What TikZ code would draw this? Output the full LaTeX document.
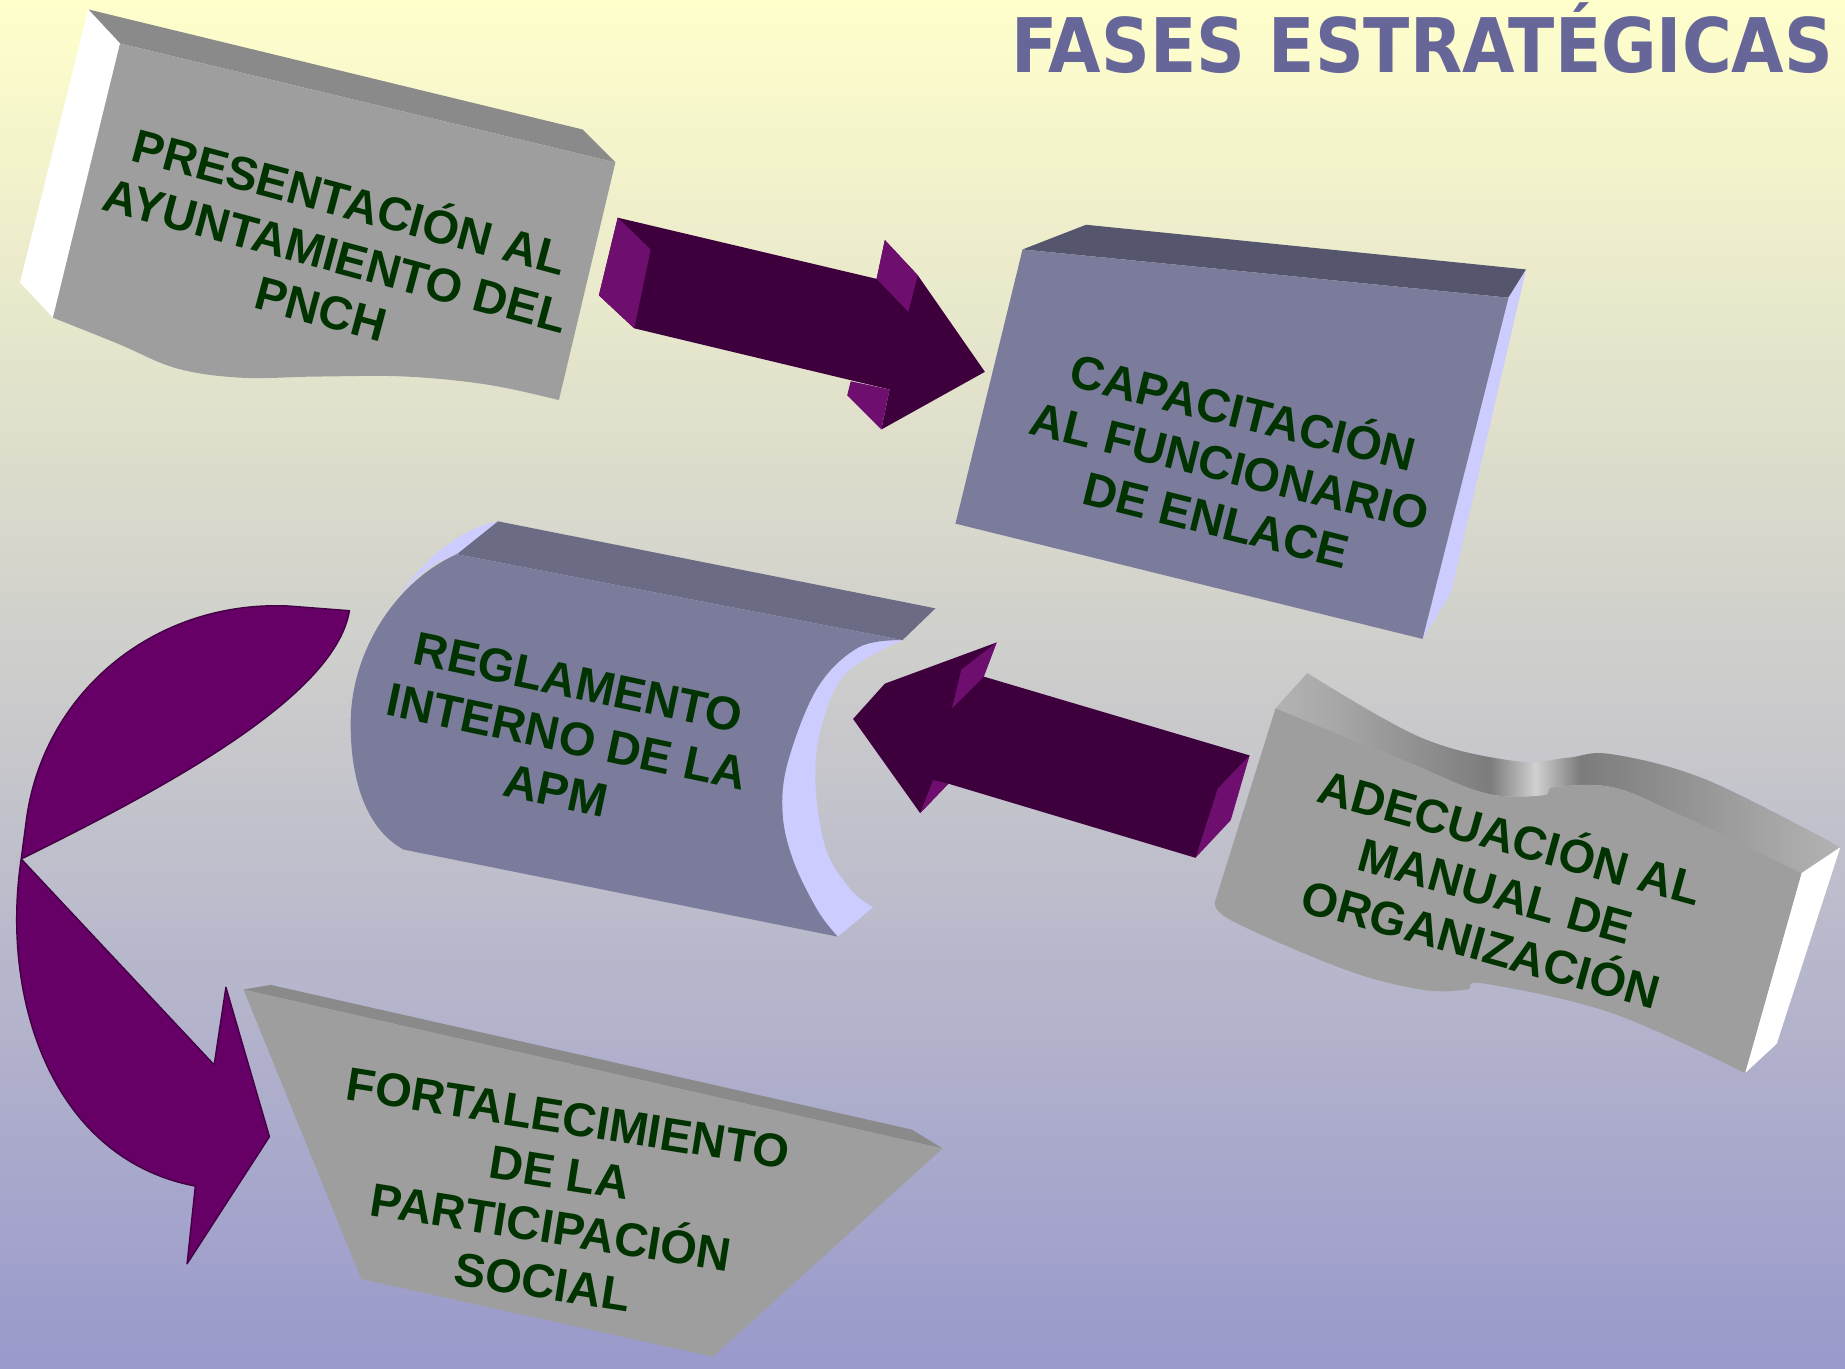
\documentclass[tikz,border=0pt]{standalone}
\usepackage{fontspec}
\setmainfont{Liberation Sans}
\newfontfamily\titlefont{DejaVu Sans Condensed Bold}
\definecolor{bgtop}{HTML}{FFFFCC}
\definecolor{bgbot}{HTML}{9999CC}
\definecolor{txtgreen}{HTML}{003300}
\definecolor{titlec}{HTML}{666699}
\definecolor{gface}{HTML}{9E9E9E}
\definecolor{gbevel}{HTML}{8A8A8A}
\definecolor{sface}{HTML}{7B7B9B}
\definecolor{sbevelA}{HTML}{55556D}
\definecolor{sbevelB}{HTML}{6B6B86}
\definecolor{lav}{HTML}{CCCCFF}
\definecolor{adark}{HTML}{3D003D}
\definecolor{amag}{HTML}{6E0E6E}
\definecolor{acurve}{HTML}{660066}
\definecolor{acurveline}{HTML}{440044}
\definecolor{fA}{HTML}{E8E8E8}
\definecolor{fB}{HTML}{A8A8A8}
\definecolor{fC}{HTML}{7C7C7C}
\definecolor{fD}{HTML}{D0D0D0}
\pgfdeclarehorizontalshading{flagbevel}{100bp}{color(0bp)=(fA); color(30bp)=(fB); color(44bp)=(fC); color(48bp)=(fD); color(52bp)=(fC); color(70bp)=(fB); color(100bp)=(fA)}
\begin{document}
\begin{tikzpicture}[x=1pt,y=-1pt,
  lbl/.style={text=txtgreen, font=\fontsize{40}{47}\selectfont\bfseries, align=center, inner sep=0pt},
  sm/.style={smooth, tension=0.6}]
\useasboundingbox (0,0) rectangle (1568,1163);
\shade[top color=bgtop, bottom color=bgbot] (0,0) rectangle (1568,1163);

% ---------- Title
\node[anchor=base east, text=titlec, font=\titlefont\fontsize{64}{70}\selectfont, inner sep=0pt] (title) at (1558,62) {FASES ESTRATÉGICAS};

% ---------- Box 1: PRESENTACION
\fill[gbevel] (75,8) -- (495,110) -- (523,138) -- (102,37) -- cycle;
\fill[white] (75,8) -- (102,37) -- (45,270) -- (17,240) -- cycle;
\fill[gface] (102,37) -- (523,138) -- (475,340)
  -- plot[sm] coordinates {(475,340) (415,327) (345,320) (270,320) (205,321) (150,313) (100,292) (45,270)} -- cycle;
\node[lbl, rotate=-15] (b1) at (286,214) {PRESENTACIÓN AL\\AYUNTAMIENTO DEL\\PNCH};

% ---------- Arrow 1
\fill[adark] (525,185) -- (745,237) -- (752,204) -- (780,234) -- (837,316) -- (749,365) -- (756,331) -- (539,279) -- (509,251) -- cycle;
\fill[amag] (525,185) -- (553,212) -- (539,279) -- (509,251) -- cycle;
\fill[amag] (752,204) -- (780,234) -- (772,265) -- (745,237) -- cycle;
\fill[amag] (723,324) -- (756,331) -- (749,365) -- (720,336) -- cycle;

% ---------- Box 2: CAPACITACION
\fill[sbevelA] (869,212) -- (923,191) -- (1297,229) -- (1282,253) -- cycle;
\fill[lav] (1282,253) -- (1297,229) -- (1233,504) -- (1209,543) -- cycle;
\fill[sface] (869,212) -- (1282,253) -- (1209,543) -- (812,445) -- cycle;
\node[lbl, rotate=-14] (b2) at (1046,393) {CAPACITACIÓN\\AL FUNCIONARIO\\DE ENLACE};

% ---------- Box 3: REGLAMENTO
\fill[sbevelB] (423,443) -- (795,517) -- (767,544) -- (388,471) -- cycle;
\fill[lav] (423,443) .. controls (392,449) and (360,475) .. (338,508) .. controls (352,490) and (370,477) .. (388,471) -- cycle;
\fill[lav] plot[sm] coordinates {(767,544) (719,572) (698,618) (693,666) (702,722) (723,756) (742,771)}
  -- (712,796) -- plot[sm] coordinates {(712,796) (695,774) (674,731) (665,690) (670,646) (695,584) (730,550) (767,544)} -- cycle;
\fill[sface] (388,471) -- plot[sm] coordinates {(767,544) (730,550) (695,584) (670,646) (665,690) (674,731) (695,774) (712,796)}
  -- (343,722) .. controls (312,705) and (298,665) .. (298,615) .. controls (298,555) and (335,495) .. (388,471) -- cycle;
\node[lbl, rotate=-12] (b3) at (482,626) {REGLAMENTO\\INTERNO DE LA\\APM};

% ---------- Arrow 2
\fill[adark] (725,611) -- (752,581) -- (847,546) -- (836,575) -- (1062,642) -- (1016,729) -- (806,666) -- (782,691) -- cycle;
\fill[amag] (847,546) -- (836,575) -- (809,602) -- (817,569) -- cycle;
\fill[amag] (1062,642) -- (1046,697) -- (1016,729) -- (1035,670) -- cycle;
\fill[amag] (793,663) -- (806,666) -- (782,691) -- cycle;

% ---------- Box 4: ADECUACION (flag)
\shade[shading=flagbevel] plot[sm] coordinates {(1111,572) (1208,627) (1289,647) (1332,644) (1370,641) (1451,663) (1564,720)}
  -- plot[sm] coordinates {(1531,742) (1424,691) (1370,669) (1321,669) (1311,676) (1262,674) (1192,646) (1084,602)} -- cycle;
\fill[white] (1564,720) -- (1510,887) -- (1483,912) -- (1531,742) -- cycle;
\fill[gface] plot[sm] coordinates {(1084,602) (1192,646) (1262,674) (1311,676) (1321,669) (1370,669) (1424,691) (1531,742)}
  -- (1483,912) -- plot[sm] coordinates {(1483,912) (1370,861) (1262,836) (1246,841) (1208,841) (1143,824) (1046,782) (1033,765)} -- cycle;
\node[lbl, rotate=-15.5] (b4) at (1272,754) {ADECUACIÓN AL\\MANUAL DE\\ORGANIZACIÓN};

% ---------- Box 5: FORTALECIMIENTO
\fill[gbevel] (207,841) -- (230,837) -- (775,960) -- (801,976) -- cycle;
\fill[gface] (207,841) -- (801,976) -- (606,1153) -- (307,1087) -- cycle;
\node[lbl, rotate=-9] (b5) at (472,1020) {FORTALECIMIENTO\\DE LA\\PARTICIPACIÓN\\SOCIAL};

% ---------- Curved arrow
\filldraw[fill=acurve, draw=acurveline, line width=1.2pt, line join=round]
  (297,519) -- (245,515) .. controls (130,510) and (35,590) .. (22,700) -- (18,730)
  .. controls (0,850) and (45,985) .. (166,1008)
  -- (159,1074) -- (229,966) -- (192,839) -- (182,905) -- (18,730)
  .. controls (150,665) and (285,590) .. (297,519) -- cycle;
\end{tikzpicture}
\end{document}
